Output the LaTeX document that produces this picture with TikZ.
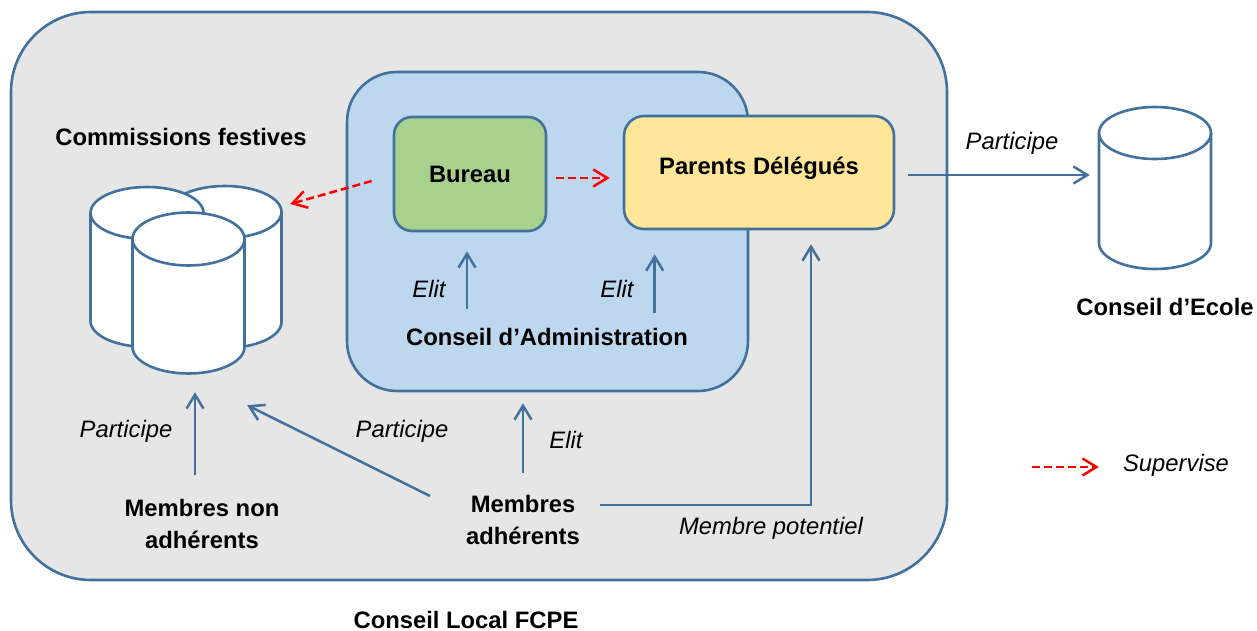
\documentclass[tikz,border=0pt]{standalone}
\usepackage{fontspec}
\setmainfont{Liberation Sans}
\usetikzlibrary{arrows.meta,calc}
\definecolor{edge}{HTML}{41719C}
\definecolor{grayfill}{HTML}{E6E6E6}
\definecolor{cafill}{HTML}{BDD7EE}
\definecolor{bufill}{HTML}{A9D18E}
\definecolor{pdfill}{HTML}{FFE699}
\newcommand\cylshape[5]{%
  \filldraw[cyl] ({#1-#4},#2) -- ({#1-#4},#3)
    arc[start angle=180,end angle=360,x radius=#4,y radius=#5]
    -- ({#1+#4},#2)
    arc[start angle=0,end angle=180,x radius=#4,y radius=#5] -- cycle;
  \draw[cyl,fill=none] ({#1-#4},#2) arc[start angle=180,end angle=360,x radius=#4,y radius=#5];
}
\begin{document}
\begin{tikzpicture}[x=1pt,y=1pt,
  every node/.style={font=\fontsize{23.8}{31.5}\selectfont, inner sep=0pt},
  box/.style={draw=edge, line width=2.6pt},
  bl/.style={font=\fontsize{23.8}{31.5}\selectfont\bfseries, align=center},
  it/.style={font=\fontsize{23.8}{31.5}\selectfont\itshape},
  arr/.style={draw=edge, line width=2.5pt, -{Straight Barb[length=14pt,width=17pt]}},
  sup/.style={draw=red, line width=2.5pt, dash pattern=on 8pt off 4pt, -{Straight Barb[length=14pt,width=17pt]}},
  cyl/.style={draw=edge, fill=white, line width=2.6pt},
]
\useasboundingbox (0,0) rectangle (1257,-631);

% outer frame
\node[box, fill=grayfill, rounded corners=80pt, minimum width=936pt, minimum height=568pt] (local) at (479,-296) {};
\node[bl] (localtext) at (466,-619.5) {Conseil Local FCPE};

% Conseil d'Administration
\node[box, fill=cafill, rounded corners=50pt, minimum width=401pt, minimum height=319pt] (ca) at (547.5,-231.5) {};
\node[bl] (catext) at (547,-337) {Conseil d’Administration};

\node[box, fill=bufill, rounded corners=18pt, minimum width=152pt, minimum height=114pt, bl] (bureau) at (470,-174) {Bureau};
\node[box, fill=pdfill, rounded corners=20pt, minimum width=270pt, minimum height=113pt,
      label={[bl, yshift=4.5pt]center:Parents Délégués}] (pd) at (759,-172.5) {};

% Commissions festives
\node[bl] (commtext) at (181,-137) {Commissions festives};
\cylshape{225}{-212}{-322}{56.5}{26}
\cylshape{147}{-213}{-321}{56.5}{26}
\cylshape{188.5}{-239}{-347}{56}{26.5}
\node[minimum width=191pt, minimum height=188pt] (comm) at (185.5,-279) {};

% Conseil d'Ecole
\cylshape{1155}{-133}{-243}{56}{26}
\node[minimum width=112pt, minimum height=161pt] (ecole) at (1155,-186.5) {};
\node[bl] (ecoletext) at (1165,-307) {Conseil d’Ecole};

% members
\node[bl] (mna) at (202,-524) {Membres non\\adhérents};
\node[bl] (madh) at (523,-520) {Membres\\adhérents};

% labels
\node[it] (l1) at (429,-289) {Elit};
\node[it] (l2) at (617,-289) {Elit};
\node[it] (l3) at (1012,-143) {Participe};
\node[it] (l4) at (126,-431) {Participe};
\node[it] (l5) at (402,-431) {Participe};
\node[it] (l6) at (566,-440) {Elit};
\node[it] (l7) at (771,-528) {Membre potentiel};
\node[it] (sv) at (1176,-465) {Supervise};

% connectors
\draw[sup] ($(bureau.west)+(-21,-7)$) -- ($(comm.east)+(9,75)$);
\draw[sup] ($(bureau.east)+(9,-4)$) -- ($(pd.west)+(-13,-5.5)$);
\draw[arr] ($(bureau.south)+(-3,-77)$) -- ($(bureau.south)+(-3,-19)$);
\draw[arr] ($(pd.south west)+(32,-83)$) -- ($(pd.south west)+(32,-24)$);
\draw[arr] ($(pd.east)+(13,-2.5)$) -- ($(ecole.west)+(-9,11.5)$);
\draw[arr] ($(comm.south)+(9.5,-102)$) -- ($(comm.south)+(9.5,-19)$);
\draw[arr] ($(madh)+(-93,24)$) -- ($(comm.south east)+(-34,-32)$);
\draw[arr] ($(madh)+(0,47)$) -- ($(ca.south)+(-24.5,-11)$);
\draw[arr] ($(madh)+(77,15)$) -| ($(pd.south)+(52,-14)$);
\draw[sup] ($(sv.west)+(-91,-2)$) -- ($(sv.west)+(-24,-2)$);
\end{tikzpicture}
\end{document}
